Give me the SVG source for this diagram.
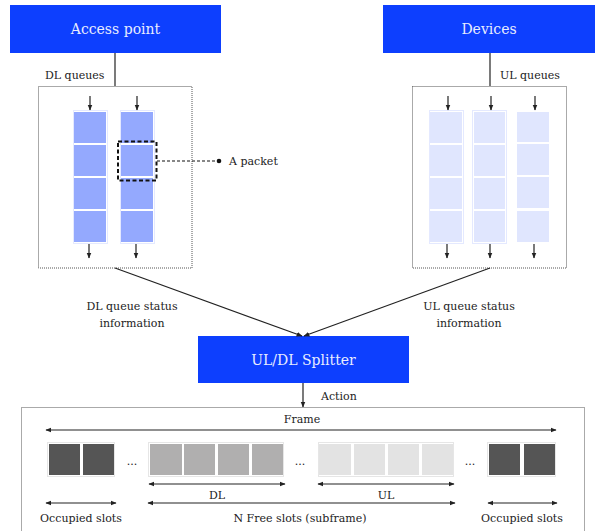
<svg xmlns="http://www.w3.org/2000/svg" width="595" height="531" viewBox="0 0 595 531">
  <defs>
    <marker id="ah" viewBox="0 0 10 10" refX="9" refY="5" markerWidth="5" markerHeight="5" orient="auto-start-reverse">
      <path d="M0,1 L10,5 L0,9 z" fill="#222"/>
    </marker>
    <style>
      .hdr { fill: #0d3ffe; }
      .hdrtxt { font-family: "DejaVu Serif", "Liberation Serif", serif; font-size: 14px; fill: #e8ecff; text-anchor: middle; }
      .lbl { font-family: "DejaVu Serif", "Liberation Serif", serif; font-size: 11px; fill: #222; }
      .mid { text-anchor: middle; }
      .dots { fill: none; stroke: #555; stroke-width: 1; stroke-dasharray: 1 1; }
      .ln { stroke: #222; stroke-width: 1.2; fill: none; }
      .arr { stroke: #222; stroke-width: 1.2; fill: none; marker-end: url(#ah); }
      .dbl { stroke: #222; stroke-width: 1.2; fill: none; marker-start: url(#ah); marker-end: url(#ah); }
      .dl { fill: #94a9fe; }
      .ul { fill: #e0e6fe; }
      .colbg { fill: none; stroke: #e4e9ff; stroke-width: 1; }
      .occ { fill: #555555; }
      .dls { fill: #b0afaf; }
      .uls { fill: #e3e3e3; }
      .slotbg { fill: none; stroke: #e6e6e6; stroke-width: 1; }
    </style>
  </defs>

  <!-- Access point -->
  <g id="access-point">
    <rect class="hdr" x="10" y="5" width="211" height="48"/>
    <text class="hdrtxt" x="115.5" y="34">Access point</text>
  </g>

  <!-- Devices -->
  <g id="devices">
    <rect class="hdr" x="383" y="5" width="212" height="48"/>
    <text class="hdrtxt" x="489" y="34">Devices</text>
  </g>

  <!-- DL queues -->
  <g id="dl-queues">
    <text class="lbl" x="45" y="79">DL queues</text>
    <rect class="dots" x="38.5" y="86.5" width="153.5" height="181.5"/>
    <rect class="colbg" x="73.5" y="110.5" width="34" height="133"/>
    <rect class="colbg" x="120.5" y="110.5" width="34" height="133"/>
    <rect class="dl" x="74" y="112" width="32" height="31"/>
    <rect class="dl" x="74" y="145" width="32" height="31"/>
    <rect class="dl" x="74" y="178" width="32" height="31"/>
    <rect class="dl" x="74" y="211" width="32" height="31"/>
    <rect class="dl" x="121" y="112" width="32" height="31"/>
    <rect class="dl" x="121" y="145" width="32" height="31"/>
    <rect class="dl" x="121" y="178" width="32" height="31"/>
    <rect class="dl" x="121" y="211" width="32" height="31"/>
    <path class="arr" d="M90,96 V110"/>
    <path class="arr" d="M137,96 V110"/>
    <path class="arr" d="M89,244 V258"/>
    <path class="arr" d="M136,244 V258"/>
  </g>

  <!-- Packet callout -->
  <g id="packet">
    <rect x="118" y="141.5" width="38.5" height="39" fill="none" stroke="#111" stroke-width="2" stroke-dasharray="4 2.5"/>
    <path d="M157,161 H218" stroke="#111" stroke-width="1.2" stroke-dasharray="3 2" fill="none"/>
    <circle cx="219" cy="161" r="2.3" fill="#111"/>
    <text class="lbl" x="229" y="165">A packet</text>
  </g>

  <!-- UL queues -->
  <g id="ul-queues">
    <text class="lbl" x="500" y="79">UL queues</text>
    <rect class="dots" x="412.5" y="86.5" width="154" height="181.5"/>
    <rect class="colbg" x="429.5" y="110.5" width="34" height="133"/>
    <rect class="colbg" x="472.5" y="110.5" width="34" height="133"/>
    <rect class="ul" x="430" y="112" width="32" height="31"/>
    <rect class="ul" x="430" y="145" width="32" height="31"/>
    <rect class="ul" x="430" y="178" width="32" height="31"/>
    <rect class="ul" x="430" y="211" width="32" height="31"/>
    <rect class="ul" x="474" y="112" width="31" height="31"/>
    <rect class="ul" x="474" y="145" width="31" height="31"/>
    <rect class="ul" x="474" y="178" width="31" height="31"/>
    <rect class="ul" x="474" y="211" width="31" height="31"/>
    <rect class="ul" x="517" y="112" width="32" height="30"/>
    <rect class="ul" x="517" y="144" width="32" height="31"/>
    <rect class="ul" x="517" y="177" width="32" height="31"/>
    <rect class="ul" x="517" y="211" width="32" height="31"/>
    <path class="arr" d="M448,96 V110"/>
    <path class="arr" d="M491,96 V110"/>
    <path class="arr" d="M535,96 V110"/>
    <path class="arr" d="M447,244 V258"/>
    <path class="arr" d="M490,244 V258"/>
    <path class="arr" d="M534,244 V258"/>
  </g>

  <!-- UL/DL Splitter -->
  <g id="splitter">
    <rect class="hdr" x="198" y="336" width="211" height="47"/>
    <text class="hdrtxt" x="303.5" y="365">UL/DL Splitter</text>
  </g>

  <!-- Status labels -->
  <g id="status-labels">
    <text class="lbl mid" x="132" y="310">DL queue status</text>
    <text class="lbl mid" x="132" y="327">information</text>
    <text class="lbl mid" x="469" y="310">UL queue status</text>
    <text class="lbl mid" x="469" y="327">information</text>
    <text class="lbl" x="321" y="400">Action</text>
  </g>

  <!-- Connectors -->
  <g id="connectors">
    <path class="ln" d="M115,53 V86"/>
    <path class="ln" d="M490,53 V86"/>
    <path class="arr" d="M115,268 L302,336"/>
    <path class="arr" d="M490,268 L304,336"/>
    <path class="arr" d="M303,383 V407"/>
  </g>

  <!-- Frame -->
  <g id="frame">
    <rect class="dots" x="21.5" y="407.5" width="563" height="130"/>
    <text class="lbl mid" x="302" y="423">Frame</text>
    <path class="dbl" d="M46,430 H556"/>

    <rect class="slotbg" x="47.5" y="442.5" width="67" height="34"/>
    <rect class="occ" x="49" y="444" width="31" height="31"/>
    <rect class="occ" x="83" y="444" width="31" height="31"/>
    <text class="lbl mid" x="132" y="465">...</text>

    <rect class="slotbg" x="148.5" y="442.5" width="135" height="34"/>
    <rect class="dls" x="150" y="444" width="32" height="31"/>
    <rect class="dls" x="184" y="444" width="31" height="31"/>
    <rect class="dls" x="218" y="444" width="31" height="31"/>
    <rect class="dls" x="252" y="444" width="31" height="31"/>
    <text class="lbl mid" x="300" y="465">...</text>

    <rect class="slotbg" x="318.5" y="442.5" width="135" height="34"/>
    <rect class="uls" x="319" y="444" width="32" height="31"/>
    <rect class="uls" x="354" y="444" width="31" height="31"/>
    <rect class="uls" x="388" y="444" width="31" height="31"/>
    <rect class="uls" x="422" y="444" width="31" height="31"/>
    <text class="lbl mid" x="470" y="465">...</text>

    <rect class="slotbg" x="487.5" y="442.5" width="68" height="34"/>
    <rect class="occ" x="489" y="444" width="31" height="31"/>
    <rect class="occ" x="524" y="444" width="31" height="31"/>

    <path class="dbl" d="M149,484 H285"/>
    <text class="lbl mid" x="217" y="499">DL</text>
    <path class="dbl" d="M318,484 H454"/>
    <text class="lbl mid" x="386" y="499">UL</text>

    <path class="dbl" d="M46,503 H116"/>
    <text class="lbl mid" x="81" y="522">Occupied slots</text>
    <path class="dbl" d="M148,503 H455"/>
    <text class="lbl mid" x="300" y="522">N Free slots (subframe)</text>
    <path class="dbl" d="M488,503 H557"/>
    <text class="lbl mid" x="522" y="522">Occupied slots</text>
  </g>
</svg>
